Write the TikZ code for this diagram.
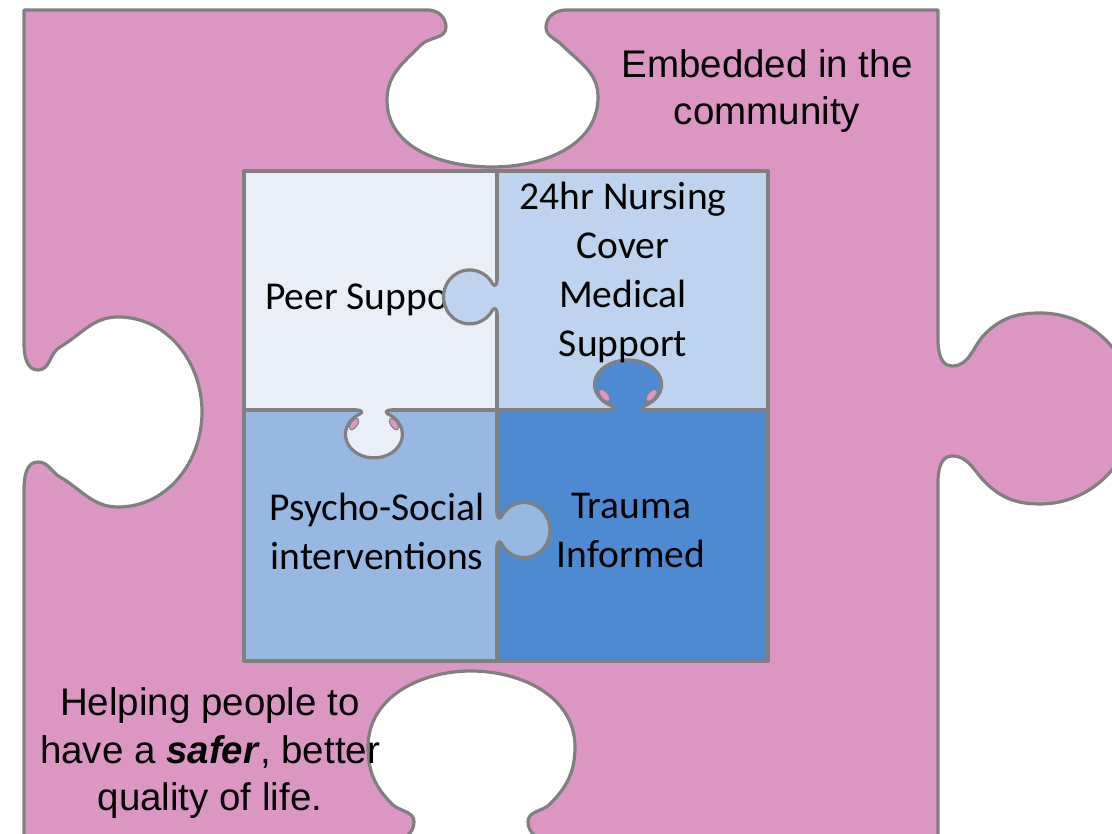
\documentclass[tikz,border=0pt]{standalone}
\usepackage{fontspec}
\setmainfont{Liberation Sans}
\newfontfamily\piecefont{Carlito}
\usepackage{tikz}
\definecolor{puzzlepink}{RGB}{219,150,196}
\definecolor{seamgrey}{RGB}{128,128,128}
\definecolor{peerblue}{RGB}{233,238,247}
\definecolor{nurseblue}{RGB}{190,211,237}
\definecolor{psychoblue}{RGB}{150,184,225}
\definecolor{traumablue}{RGB}{78,138,210}

% one knob, pointing along +x out of an edge through the origin
\newcommand{\knob}{(0,18) .. controls (0,14) and (2,11) .. (4,14.2)
  arc[start angle=151.6,end angle=-151.6,x radius=25,y radius=30]
  .. controls (2,-11) and (0,-14) .. (0,-18)}

\begin{document}
\begin{tikzpicture}[
  x=1pt,y=1pt,
  seam/.style={draw=seamgrey,line width=3.2pt,line join=round},
  piece/.style={seam,fill=#1},
  label/.style={font=\piecefont\fontsize{39.5}{49}\selectfont,align=center,anchor=base,inner sep=0pt},
  note/.style={font=\fontsize{38.5}{47.5}\selectfont,align=center,anchor=base,inner sep=0pt}]
  \useasboundingbox (0,0) rectangle (1112,834);
  \clip (0,0) rectangle (1112,834);

  % big pink piece
  \draw[piece=puzzlepink] (24,824) -- (428,824)
    to[out=0,in=90] (446,807) to[out=-90,in=45] (421,789)
    to[out=225,in=90] (387,734) to[out=-90,in=180] (492,667)
    to[out=0,in=-90] (598,737) to[out=90,in=-45] (562,789)
    to[out=135,in=-90] (546,807) to[out=90,in=180] (566,824)
    -- (938,824) -- (938,494)
    to[out=-90,in=180] (952,468) to[out=0,in=-135] (985,500)
    to[out=45,in=180] (1040,521) to[out=0,in=90] (1134,426)
    to[out=-90,in=0] (1040,330) to[out=180,in=-45] (985,352)
    to[out=135,in=0] (952,378) to[out=180,in=90] (938,352)
    -- (938,-6) -- (548,-6)
    to[out=180,in=-90] (528,12) to[out=90,in=-135] (550,30)
    to[out=45,in=-90] (575,87) to[out=90,in=0] (471,163)
    to[out=180,in=90] (368,87) to[out=-90,in=135] (392,30)
    to[out=-45,in=90] (414,12) to[out=-90,in=0] (394,-6)
    -- (24,-6) -- (24,344)
    to[out=90,in=180] (38,372) to[out=0,in=150] (60,357)
    to[out=-30,in=180] (118,327) to[out=0,in=-90] (202,422)
    to[out=90,in=0] (118,517) to[out=180,in=30] (60,487)
    to[out=210,in=0] (38,464) to[out=180,in=-90] (24,490)
    -- cycle;

  % the four small pieces
  \draw[piece=peerblue] (244,424) rectangle (497,663);
  \node[label] (peer) at (370,524) {Peer Support};
  \draw[piece=nurseblue] (497,424) rectangle (768,663);
  \draw[piece=psychoblue] (244,173) rectangle (497,424);
  \draw[piece=traumablue] (497,173) rectangle (768,424);

  % knobs: edge x/y, turn, length, width, colour, pink gaps
  \foreach \x/\y/\r/\l/\w/\c/\p in {497/537/180/1.05/0.9/nurseblue/0,
      374/424/-90/0.94/0.95/peerblue/1, 628/424/90/0.98/1.12/traumablue/1,
      497/304/0/1.04/0.92/psychoblue/0} {
    \begin{scope}[shift={(\x,\y)},rotate=\r,xscale=\l,yscale=\w]
      \fill[\c] (-3,18) -- \knob -- (-3,-18) -- cycle;
      \ifnum\p=1
        \filldraw[fill=puzzlepink,draw=seamgrey,line width=1pt,rotate around={35:(15,21)}] (15,21) ellipse [x radius=7,y radius=3.4];
        \filldraw[fill=puzzlepink,draw=seamgrey,line width=1pt,rotate around={-35:(15,-21)}] (15,-21) ellipse [x radius=7,y radius=3.4];
      \fi
      \draw[seam] \knob;
    \end{scope}
  }

  % texts sit on the base line of their last row
  \node[label] (nursing) at (623,477) {24hr Nursing\\Cover\\Medical\\Support};
  \node[label] (psycho) at (377,264) {Psycho-Social\\interventions};
  \node[label] (trauma) at (631,266) {Trauma\\Informed};

  \node[note] (community) at (767,709) {Embedded in the\\community};
  \node[note] (helping) at (210,23) {Helping people to\\have a \textbf{\textit{safer}}, better\\quality of life.};
\end{tikzpicture}
\end{document}
